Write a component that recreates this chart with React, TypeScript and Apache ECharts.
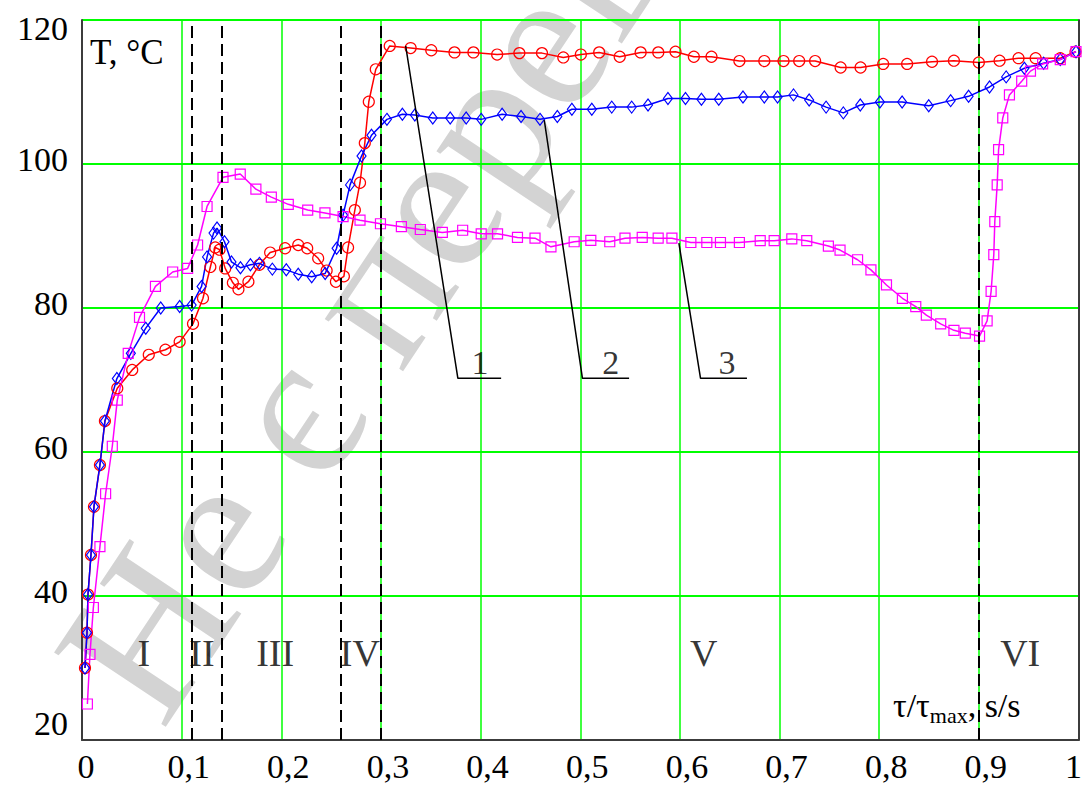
import React, { useEffect, useRef } from 'react';
import * as echarts from 'echarts';

const FONT = 'Liberation Serif';

const xTickLabels = ['0', '0,1', '0,2', '0,3', '0,4', '0,5', '0,6', '0,7', '0,8', '0,9', '1'];
const yTickLabels = ['20', '40', '60', '80', '100', '120'];

// curve 1 (red, circles)
const curve1: number[][] = [
  [0.003, 30.0], [0.005, 34.9], [0.006, 40.2], [0.009, 45.7], [0.012, 52.4], [0.018, 58.2], [0.023, 64.3],
  [0.0354, 68.85], [0.0504, 71.4], [0.067, 73.5], [0.0837, 74.2], [0.098, 75.3], [0.1114, 77.8], [0.1214, 81.35],
  [0.1288, 85.7], [0.1337, 88.4], [0.138, 88.1], [0.1437, 85.5], [0.1514, 83.5], [0.157, 82.6], [0.167, 83.65],
  [0.178, 86.0], [0.1888, 87.7], [0.2038, 88.3], [0.217, 88.75], [0.226, 88.3], [0.237, 86.9], [0.2455, 85.2],
  [0.2548, 83.65], [0.2628, 84.4], [0.267, 88.4], [0.2738, 93.6], [0.279, 97.4], [0.2838, 102.9], [0.2878, 108.65],
  [0.2948, 113.15], [0.3088, 116.4], [0.3298, 116.1], [0.3505, 115.8], [0.3738, 115.5], [0.3928, 115.5],
  [0.4166, 115.2], [0.4389, 115.4], [0.4616, 115.4], [0.483, 114.8], [0.5006, 115.2], [0.519, 115.5],
  [0.5396, 114.9], [0.5606, 115.5], [0.5783, 115.5], [0.5956, 115.6], [0.614, 114.9], [0.6317, 114.9],
  [0.6597, 114.3], [0.6847, 114.3], [0.704, 114.3], [0.7197, 114.3], [0.7357, 114.3], [0.7613, 113.4],
  [0.7813, 113.4], [0.804, 113.9], [0.828, 113.9], [0.853, 114.2], [0.875, 114.35], [0.9, 114.1],
  [0.9208, 114.35], [0.9398, 114.7], [0.957, 114.7], [0.9817, 114.7], [0.997, 115.6],
];

// curve 2 (blue, diamonds)
const curve2: number[][] = [
  [0.003, 30.0], [0.005, 34.9], [0.006, 40.2], [0.009, 45.7], [0.012, 52.4], [0.018, 58.2], [0.023, 64.3],
  [0.035, 70.2], [0.049, 73.7], [0.064, 77.2], [0.079, 80.0], [0.098, 80.2], [0.11, 80.4], [0.12, 83.0],
  [0.1255, 87.1], [0.132, 90.4], [0.1355, 91.1], [0.143, 89.2], [0.15, 86.4], [0.159, 85.6], [0.169, 86.0],
  [0.178, 86.2], [0.191, 85.4], [0.205, 85.3], [0.217, 84.7], [0.2305, 84.35], [0.244, 84.8], [0.2555, 88.3],
  [0.262, 92.9], [0.269, 97.1], [0.2805, 101.1], [0.2905, 104.0], [0.306, 106.2], [0.3215, 106.9], [0.334, 106.8],
  [0.352, 106.4], [0.3695, 106.4], [0.3855, 106.4], [0.4006, 106.2], [0.4216, 106.9], [0.4406, 106.6],
  [0.4596, 106.2], [0.477, 106.6], [0.4916, 107.6], [0.5116, 107.6], [0.5316, 107.9], [0.5516, 107.9],
  [0.568, 108.2], [0.588, 109.1], [0.6056, 109.1], [0.6216, 109.0], [0.639, 109.0], [0.6633, 109.3],
  [0.6847, 109.3], [0.698, 109.3], [0.714, 109.6], [0.7297, 108.9], [0.7467, 107.9], [0.764, 107.1],
  [0.781, 108.2], [0.8007, 108.6], [0.823, 108.6], [0.8497, 108.1], [0.8717, 108.8], [0.8897, 109.4],
  [0.9107, 110.7], [0.9274, 112.1], [0.9457, 113.3], [0.965, 114.0], [0.9817, 114.5], [0.9975, 115.6],
];

// curve 3 (magenta, squares)
const curve3: number[][] = [
  [0.0054, 25.0], [0.008, 31.9], [0.0114, 38.4], [0.018, 46.85], [0.0237, 54.2], [0.0304, 60.8], [0.0354, 67.2],
  [0.0464, 73.7], [0.0577, 78.7], [0.0737, 83.0], [0.091, 85.0], [0.106, 85.5], [0.116, 88.75], [0.1255, 94.1],
  [0.1415, 98.15], [0.1588, 98.6], [0.1745, 96.5], [0.19, 95.4], [0.207, 94.4], [0.2265, 93.6], [0.2438, 93.2],
  [0.262, 92.7], [0.279, 92.2], [0.2995, 91.7], [0.3205, 91.3], [0.3395, 90.9], [0.3616, 90.5], [0.382, 90.8],
  [0.4006, 90.3], [0.417, 90.3], [0.437, 89.8], [0.4546, 89.7], [0.4706, 88.5], [0.4939, 89.2], [0.5106, 89.4],
  [0.5296, 89.2], [0.5449, 89.7], [0.5622, 89.8], [0.5782, 89.7], [0.592, 89.7], [0.611, 89.1], [0.627, 89.1],
  [0.6407, 89.1], [0.6597, 89.1], [0.6806, 89.35], [0.6946, 89.35], [0.7123, 89.6], [0.7273, 89.35],
  [0.749, 88.6], [0.7607, 88.05], [0.7783, 86.7], [0.7917, 85.3], [0.8073, 83.2], [0.8233, 81.35],
  [0.8367, 80.2], [0.8473, 79.0], [0.8617, 77.8], [0.875, 76.9], [0.8864, 76.5], [0.9007, 76.1], [0.9083, 78.2],
  [0.9123, 82.3], [0.915, 87.4], [0.916, 92.0], [0.9184, 97.1], [0.9198, 102.0], [0.924, 106.4], [0.9307, 109.6],
  [0.943, 111.5], [0.9518, 112.9], [0.964, 113.9], [0.9817, 114.5], [0.9975, 115.6],
];

const stageBounds = [0.1087, 0.137, 0.257, 0.2995, 0.9];
const stageNames = ['I', 'II', 'III', 'IV', 'V', 'VI'];
const stageLabelX = [0.062, 0.1204, 0.1938, 0.2788, 0.6238, 0.9415];
const stageLabelY = 32.1;

const curveNames = ['1', '2', '3'];
const leaders: number[][][] = [
  [[0.3248, 116.4], [0.3772, 70.24], [0.4206, 70.24]],
  [[0.4639, 106.1], [0.5022, 70.24], [0.549, 70.24]],
  [[0.599, 89.0], [0.6207, 70.24], [0.6673, 70.24]],
];
const curveLabelPos = [[0.3993, 72.5], [0.5306, 72.5], [0.6473, 72.5]];

const watermark = 'Не є перев';

export default function App() {
  const ref = useRef<HTMLDivElement>(null);
  useEffect(() => {
    document.body.style.margin = '0';
    if (!ref.current) return;
    const chart = echarts.init(ref.current, undefined, { renderer: 'svg' });

    const markerBase = (color: string) => ({
      color: 'rgba(0,0,0,0)',
      borderColor: color,
      borderWidth: 1.2,
    });

    const curveSeries = [
      { data: curve1, color: '#ff0000', symbol: 'circle', size: 11 },
      { data: curve2, color: '#0000ff', symbol: 'diamond', size: [9, 12] },
      { data: curve3, color: '#ff00ff', symbol: 'rect', size: 10 },
    ].map((c, i) => ({
      name: curveNames[i],
      type: 'line',
      data: c.data,
      symbol: c.symbol,
      symbolSize: c.size,
      showAllSymbol: true,
      color: c.color,
      lineStyle: { color: c.color, width: 1.5 },
      itemStyle: markerBase(c.color),
      z: 3,
      silent: true,
    }));

    const leaderSeries = leaders.map((d, i) => ({
      type: 'line',
      data: d,
      symbol: 'none',
      lineStyle: { color: '#000', width: 1.5 },
      silent: true,
      z: 4,
      ...(i === 0
        ? {
            markLine: {
              silent: true,
              symbol: ['none', 'none'],
              label: { show: false },
              lineStyle: { color: '#000', width: 2, type: [12, 6] },
              data: stageBounds.map((x) => ({ xAxis: x })),
            },
          }
        : {}),
    }));

    const textLabel = (size: number) => ({
      show: true,
      position: 'inside',
      formatter: '{b}',
      color: '#000',
      fontFamily: FONT,
      fontSize: size,
    });

    const rs = (extra: any) => ({ fontFamily: FONT, fontSize: 34, color: '#000', ...extra });

    const option: any = {
      animation: false,
      textStyle: { fontFamily: FONT },
      grid: { left: 82, right: 4, top: 20, bottom: 46, containLabel: false },
      xAxis: [
        {
          type: 'value',
          min: 0,
          max: 1,
          interval: 0.1,
          axisLine: { show: true, onZero: false, lineStyle: { color: '#3c3c3c', width: 2 } },
          axisTick: { show: false },
          splitLine: { show: true, lineStyle: { color: '#00ff00', width: 1.5 } },
          axisLabel: {
            margin: 9,
            color: '#000',
            fontFamily: FONT,
            fontSize: 34,
            formatter: (v: number) => {
              const i = Math.round(v * 10);
              const s = xTickLabels[i];
              if (i === 0) return `{z|${s}}`;
              if (i === 10) return `{e|${s}}`;
              return `{m|${s}}`;
            },
            rich: {
              z: rs({ padding: [0, 0, 0, 8] }),
              e: rs({ padding: [0, 10, 0, 0] }),
              m: rs({ padding: [0, 0, 0, 14] }),
            },
          },
        },
      ],
      yAxis: [
        {
          type: 'value',
          min: 20,
          max: 120,
          interval: 20,
          axisLine: { show: true, onZero: false, lineStyle: { color: '#3c3c3c', width: 2 } },
          axisTick: { show: false },
          splitLine: { show: true, lineStyle: { color: '#00ff00', width: 2 } },
          axisLabel: {
            margin: 14,
            color: '#000',
            fontFamily: FONT,
            fontSize: 34,
            formatter: (v: number) => {
              const i = Math.round((v - 20) / 20);
              const s = yTickLabels[i];
              if (i === 5) return `{t|${s}}`;
              if (i === 0) return `{b|${s}}`;
              return `{m|${s}}`;
            },
            rich: {
              t: rs({ padding: [16, 0, 0, 0] }),
              m: rs({ padding: [0, 0, 9, 0] }),
              b: rs({ padding: [0, 0, 34, 0] }),
            },
          },
        },
        {
          type: 'value',
          min: 20,
          max: 120,
          interval: 20,
          position: 'right',
          axisLine: { show: true, onZero: false, lineStyle: { color: '#3c3c3c', width: 2 } },
          axisTick: { show: false },
          axisLabel: { show: false },
          splitLine: { show: false },
        },
      ],
      graphic: [
        {
          type: 'text',
          z: -10,
          silent: true,
          x: 190,
          y: 750,
          rotation: 0.9826,
          style: {
            text: watermark,
            fill: '#d3d3d3',
            fontFamily: FONT,
            fontSize: 205,
            textAlign: 'left',
            textVerticalAlign: 'bottom',
          },
        },
        {
          type: 'text',
          z: 10,
          x: 90,
          y: 52,
          style: {
            text: 'T, °C',
            fill: '#000',
            fontFamily: FONT,
            fontSize: 35,
            textAlign: 'left',
            textVerticalAlign: 'middle',
          },
        },
        {
          type: 'text',
          z: 10,
          x: 893,
          y: 705,
          style: {
            text: '{a|τ/τ}{s|max}{a|, s/s}',
            fill: '#000',
            fontFamily: FONT,
            fontSize: 34,
            textAlign: 'left',
            textVerticalAlign: 'middle',
            rich: {
              a: { fontFamily: FONT, fontSize: 34, fill: '#000', verticalAlign: 'bottom' },
              s: { fontFamily: FONT, fontSize: 22, fill: '#000', verticalAlign: 'bottom', padding: [0, 0, -4, 0] },
            },
          },
        },
      ],
      series: [
        ...curveSeries,
        ...leaderSeries,
        {
          type: 'scatter',
          symbolSize: 0,
          silent: true,
          z: 5,
          data: stageNames.map((n, i) => ({ name: n, value: [stageLabelX[i], stageLabelY] })),
          label: textLabel(38),
        },
        {
          type: 'scatter',
          symbolSize: 0,
          silent: true,
          z: 5,
          data: curveNames.map((n, i) => ({ name: n, value: curveLabelPos[i] })),
          label: textLabel(34),
        },
      ],
    };
    chart.setOption(option);
    return () => chart.dispose();
  }, []);
  return <div ref={ref} style={{ width: 1085, height: 786 }} />;
}
